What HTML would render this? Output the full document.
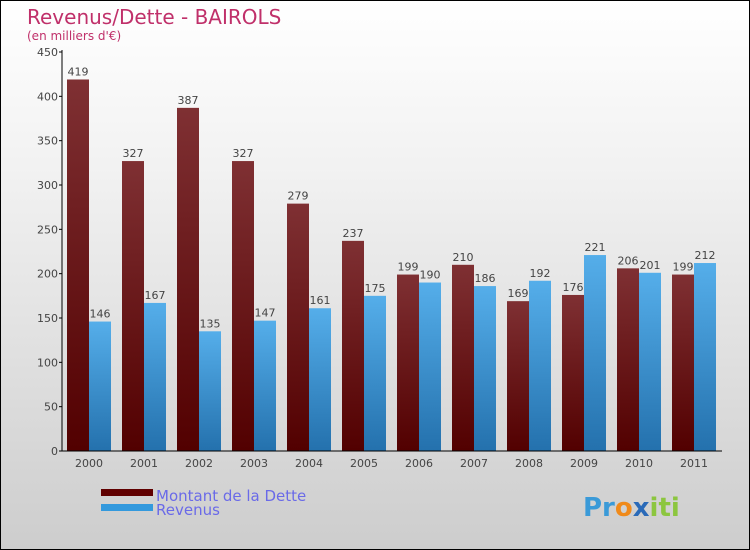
<!DOCTYPE html>
<html><head><meta charset="utf-8"><style>
body{margin:0}
#c{position:relative;width:748px;height:548px;border:1px solid #000;background:linear-gradient(#fff,#f2f2f2 30%,#cdcdcd);font-family:"DejaVu Sans","Liberation Sans",sans-serif;overflow:hidden}
</style></head><body>
<div id="c">
<svg width="748" height="548" xmlns="http://www.w3.org/2000/svg" id="s">
<defs>
<linearGradient id="gd" x1="0" y1="0" x2="0" y2="1"><stop offset="0" stop-color="#7f3033"/><stop offset="1" stop-color="#520000"/></linearGradient>
<linearGradient id="gr" x1="0" y1="0" x2="0" y2="1"><stop offset="0" stop-color="#55aeea"/><stop offset="1" stop-color="#2471ad"/></linearGradient>
</defs>
<text x="26" y="23" font-size="20" fill="#c0306a">Revenus/Dette - BAIROLS</text>
<text x="26" y="39" font-size="12" fill="#c0306a">(en milliers d'€)</text>
<g id="bars"></g>
<g id="axes"></g>
<rect x="100" y="488" width="52" height="7" fill="#600000"/>
<text x="155" y="500" font-size="15" fill="#6a6ae8">Montant de la Dette</text>
<rect x="100" y="503" width="52" height="7" fill="#3399dd"/>
<text x="155" y="514" font-size="15" fill="#6a6ae8">Revenus</text>
<text x="582" y="515" font-size="26" font-weight="bold" fill="#3a9ad8"><tspan fill="#3a9ad8">Pr</tspan><tspan fill="#f08a1a">o</tspan><tspan fill="#2a6ab8">x</tspan><tspan fill="#8cc63f">iti</tspan></text>
</svg>
</div>
<script>
const years=["2000","2001","2002","2003","2004","2005","2006","2007","2008","2009","2010","2011"];
const dette=[419,327,387,327,279,237,199,210,169,176,206,199];
const revenus=[146,167,135,147,161,175,190,186,192,221,201,212];
const yTicks=[0,50,100,150,200,250,300,350,400,450];
const NS="http://www.w3.org/2000/svg";
const x0=61,step=55,base=450,top_=51,ymax=450;
function y(v){return base-(v/ymax)*(base-top_);}
function gx(i){return x0+27+i*step;}
const bars=document.getElementById('bars'),axes=document.getElementById('axes');
function mk(tag,attrs,parent){const e=document.createElementNS(NS,tag);for(const k in attrs)e.setAttribute(k,attrs[k]);parent.appendChild(e);return e;}
years.forEach((yr,i)=>{
 const c=gx(i);
 let r=mk('rect',{x:c-22,y:y(dette[i]),width:22,height:base-y(dette[i]),fill:'url(#gd)'},bars);
 
 
 let t=mk('text',{x:c-11,y:y(dette[i])-4,'font-size':11,fill:'#444','text-anchor':'middle'},bars);t.textContent=dette[i];
 
 
 r=mk('rect',{x:c,y:y(revenus[i]),width:22,height:base-y(revenus[i]),fill:'url(#gr)'},bars);
 
 
 t=mk('text',{x:c+11,y:y(revenus[i])-4,'font-size':11,fill:'#444','text-anchor':'middle'},bars);t.textContent=revenus[i];
 
 
 t=mk('text',{x:c,y:466,'font-size':11,fill:'#444','text-anchor':'middle'},axes);t.textContent=yr;
 
 
});
let l=mk('line',{x1:x0,y1:top_-2,x2:x0,y2:base,stroke:'#000'},axes);


l=mk('line',{x1:x0,y1:base,x2:x0+12*step,y2:base,stroke:'#000'},axes);


yTicks.forEach(v=>{
 mk('line',{x1:x0-3,y1:y(v),x2:x0,y2:y(v),stroke:'#000'},axes);
 const t=mk('text',{x:x0-4,y:y(v)+4,'font-size':11,fill:'#444','text-anchor':'end'},axes);t.textContent=v;
 
 
});
</script>
</body></html>
